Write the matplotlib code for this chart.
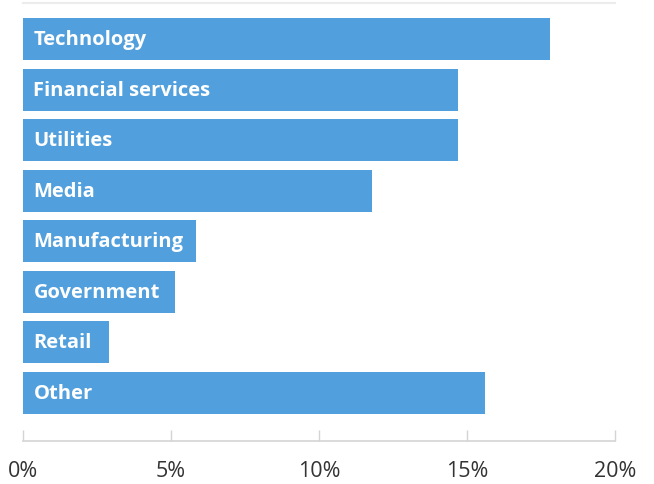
import matplotlib

matplotlib.use("Agg")
import matplotlib.pyplot as plt
from matplotlib.ticker import FuncFormatter

# Share of respondents by sector (percent)
sectors = ["Technology", "Financial services", "Utilities", "Media",
           "Manufacturing", "Government", "Retail", "Other"]
shares = [17.8, 14.7, 14.7, 11.8, 5.85, 5.15, 2.9, 15.6]
tick_values = [0, 5, 10, 15, 20]

BAR_COLOR = "#519fdc"

fig = plt.figure(figsize=(6.54, 4.85), dpi=100)
ax = fig.add_axes([0.0352, 0.0887, 0.905, 0.904])

positions = range(len(sectors))
ax.barh(positions, shares, height=0.83, color=BAR_COLOR)

for pos, name in zip(positions, sectors):
    ax.text(0.35, pos, name, color="white", fontsize=14.5, fontweight="bold",
            family="Open Sans", va="center", ha="left")

ax.set_xlim(0, 20)
ax.set_ylim(7.95, -0.72)
ax.set_yticks([])
ax.set_xticks(tick_values)
ax.xaxis.set_major_formatter(FuncFormatter(lambda v, _: f"{v:.0f}%"))
ax.tick_params(axis="x", direction="in", length=8, width=1, color="#d4d4d4",
               pad=14, labelsize=15.5, labelcolor="#333333")
for lab in ax.get_xticklabels():
    lab.set_family("Open Sans")

ax.spines["left"].set_visible(False)
ax.spines["right"].set_visible(False)
ax.spines["top"].set_color("#ececec")
ax.spines["top"].set_linewidth(1.5)
ax.spines["bottom"].set_color("#d4d4d4")
ax.spines["bottom"].set_linewidth(1.2)

fig.savefig("out.png", dpi=100)
